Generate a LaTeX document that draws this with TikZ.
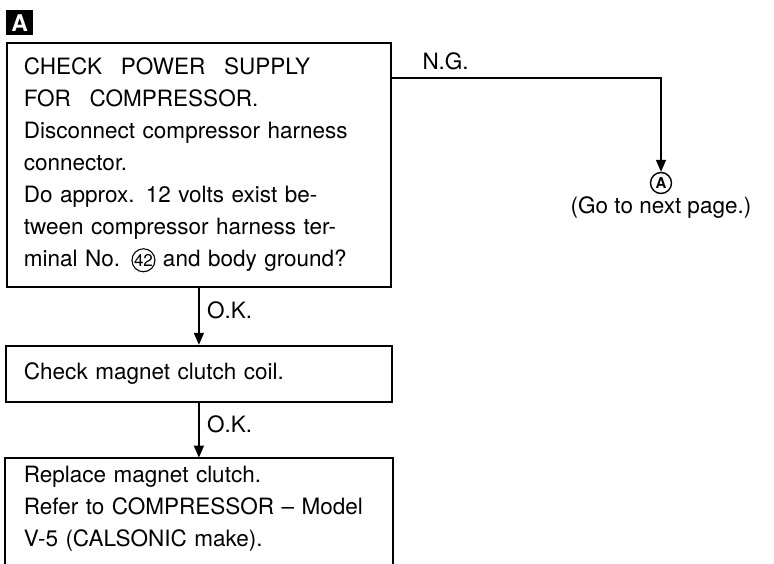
\documentclass[tikz,border=0pt]{standalone}
\usepackage{fontspec}
\setmainfont{TeX Gyre Heros}
\usetikzlibrary{arrows.meta, positioning, calc}
\newcommand{\circnum}[1]{\tikz[baseline=(cn.base)]\node[draw, circle, line width=1.1pt, inner sep=0.2pt, text width=, align=center, minimum size=0pt, font=\fontsize{17}{17}\selectfont] (cn) {#1};}
\tikzset{
  box/.style={draw, line width=1.8pt, align=left, inner xsep=18pt, text width=350pt, font=\fontsize{22.5}{32}\selectfont},
  openbox/.style={box, draw=none, inner ysep=8pt},
  tag/.style={fill=black, text=white, inner sep=0pt, minimum width=27pt, minimum height=25pt, font=\fontsize{23}{23}\selectfont\bfseries},
  endmark/.style={draw, circle, line width=1.4pt, inner sep=0pt, minimum size=21pt, font=\fontsize{15}{15}\selectfont\bfseries},
  arrow/.style={-{Triangle[length=12pt, width=10pt]}, line width=1.6pt},
  label/.style={font=\fontsize{22.5}{22.5}\selectfont},
  every node/.style={font=\fontsize{22.5}{32}\selectfont}
}
\begin{document}
\begin{tikzpicture}
    \useasboundingbox (0,0) rectangle (774pt,-564pt);

    \node[tag, anchor=north west] (tagA) at (6pt,-10pt) {A};

    \node[box, minimum height=244pt, inner xsep=17pt, anchor=north west] (power) at (6pt,-42pt)
      {CHECK\hspace{0.5em} POWER\hspace{0.5em} SUPPLY\\
       FOR\hspace{0.5em} COMPRESSOR.\\
       Disconnect compressor harness\\
       connector.\\
       Do approx. 12 volts exist be-\\
       tween compressor harness ter-\\
       minal No. \circnum{42} and body ground?};
    \node[box, minimum height=56pt, below=57pt of power] (coil) {Check magnet clutch coil.};
    \node[openbox, anchor=north] (clutch) at ($(coil.south)+(0,-55pt)$)
      {Replace magnet clutch.\\
       Refer to COMPRESSOR -- Model\\
       V-5 (CALSONIC make).};
    \draw[line width=1.8pt] ([yshift=-30pt]clutch.south west) -- (clutch.north west)
      -- (clutch.north east) -- ([yshift=-30pt]clutch.south east);

    \node[endmark] (toA) at (661pt,-183pt) {A};
    \node[below=2pt of toA, inner sep=0pt] (nextpage) {(Go to next page.)};

    \coordinate (ng) at ($(power.north east)+(0,-36pt)$);
    \draw[arrow] (ng) -| node[label, pos=0.1, above, yshift=4pt] {N.G.} (toA.north);
    \draw[arrow] (power.south) -- node[label, right, pos=0.4, xshift=4pt] {O.K.} (coil.north);
    \draw[arrow] (coil.south) -- node[label, right, pos=0.4, xshift=4pt] {O.K.} (clutch.north);
\end{tikzpicture}
\end{document}
